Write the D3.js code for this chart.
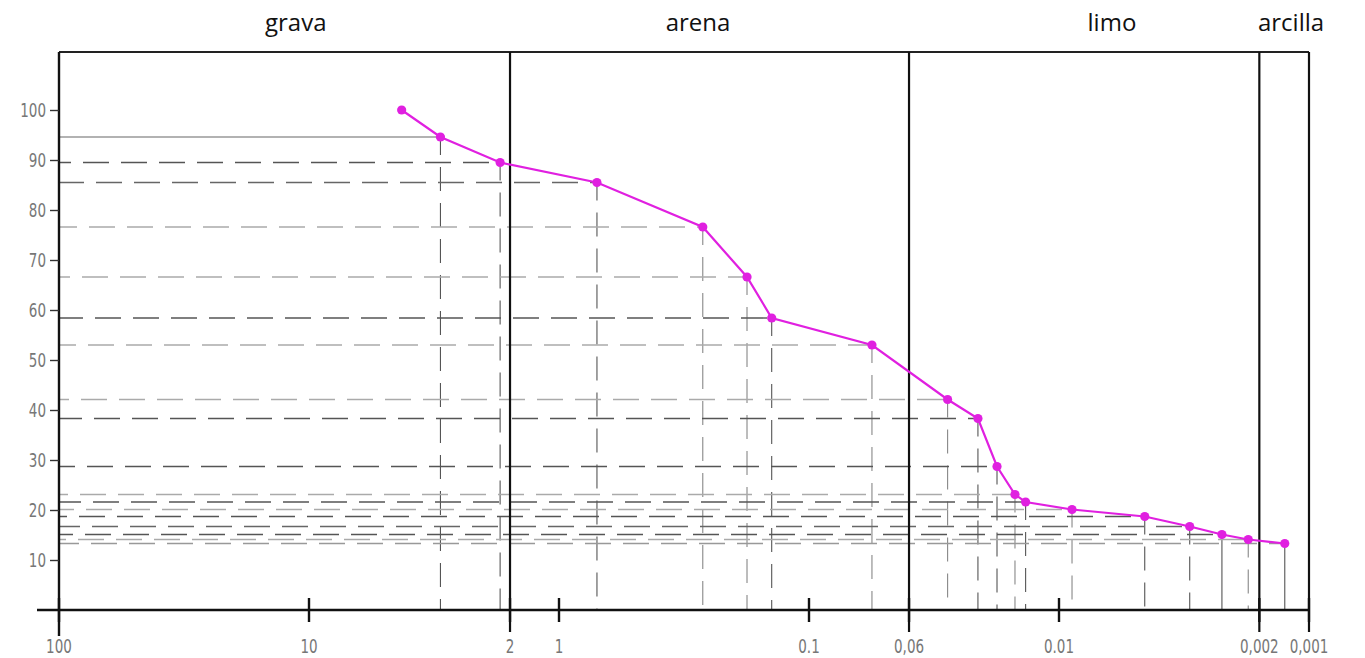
<!DOCTYPE html>
<html><head><meta charset="utf-8">
<script src="https://cdn.jsdelivr.net/npm/d3@7"></script>
<style>html,body{margin:0;padding:0;background:#fff;}svg{display:block;}</style>
</head><body><svg id="c" width="1365" height="658"></svg>
<script>
// ---- data ----
const diameters = [4.26, 2.98, 1.72, 0.705, 0.266, 0.177, 0.141, 0.056, 0.0279, 0.0211, 0.0177, 0.0150, 0.0136, 0.00887, 0.00454, 0.00300, 0.00223, 0.00175, 0.00125];
const passing   = [100, 94.6, 89.5, 85.5, 76.6, 66.6, 58.4, 53.0, 42.1, 38.3, 28.7, 23.1, 21.6, 20.1, 18.7, 16.7, 15.1, 14.1, 13.3];
const xTickValues = [100, 10, 1.57, 1, 0.1, 0.0398, 0.01, 0.00158, 0.001];
const xTickLabels = ["100", "10", "2", "1", "0.1", "0,06", "0.01", "0,002", "0,001"];
const yTickValues = [10, 20, 30, 40, 50, 60, 70, 80, 90, 100];
const zoneBounds = [1.57, 0.0398, 0.00158, 0.001];
const zoneNames = ["grava", "arena", "limo", "arcilla"];
const zoneLabelAt = [11.3, 0.278, 0.00614, 0.00118];

// ---- layout ----
const svg = d3.select("#c");
const x = d3.scaleLog().domain([100, 0.001]).range([59, 1309]);
const y = d3.scaleLinear().domain([0, 100]).range([610, 110]);
const yTop = 52;
const tickFont = "DejaVu Sans, sans-serif";

// guide tones (style, not data)
const tone = ["#999","#999","#555","#666","#aaa","#aaa","#555","#aaa","#aaa","#555","#555","#aaa","#555","#aaa","#555","#666","#555","#aaa","#999"];

const pts = diameters.map((d, i) => ({d, p: passing[i], i}));

// horizontal + vertical guides
const g = svg.append("g");
pts.forEach(pt => {
  if (pt.i === 0) return;
  g.append("line")
    .attr("x1", x(100)).attr("x2", x(pt.d))
    .attr("y1", y(pt.p)).attr("y2", y(pt.p))
    .attr("stroke", tone[pt.i]).attr("stroke-width", 1.4)
    .attr("stroke-dasharray", pt.i === 1 ? null : "26,12")
    .attr("stroke-dashoffset", (pt.i * 7) % 20);
  const last = pt.i >= 16;
  g.append("line")
    .attr("x1", x(pt.d)).attr("x2", x(pt.d))
    .attr("y1", y(pt.p)).attr("y2", y(0))
    .attr("stroke", tone[pt.i] === "#aaa" ? "#888" : "#555").attr("stroke-width", 1.1)
    .attr("stroke-dasharray", (last && pt.i !== 17) ? null : "24,12")
    .attr("stroke-dashoffset", 6);
});

// frame: top border, left axis, zone boundaries
svg.append("line").attr("x1", x(100)).attr("x2", x(0.001)).attr("y1", yTop).attr("y2", yTop)
  .attr("stroke", "#222").attr("stroke-width", 2.2);
svg.append("line").attr("x1", x(100)).attr("x2", x(100)).attr("y1", yTop).attr("y2", 636)
  .attr("stroke", "#111").attr("stroke-width", 2.4);
zoneBounds.forEach(b => {
  svg.append("line").attr("x1", x(b)).attr("x2", x(b)).attr("y1", yTop).attr("y2", 632)
    .attr("stroke", "#111").attr("stroke-width", 2.2);
});

// y axis ticks
const yAxis = d3.axisLeft(y).tickValues(yTickValues).tickSize(9).tickPadding(4);
const ya = svg.append("g").attr("transform", `translate(${x(100)},0)`).call(yAxis);
ya.select(".domain").remove();
ya.selectAll(".tick line").attr("stroke", "#333").attr("stroke-width", 1.4);
ya.selectAll(".tick text").attr("fill", "#777").attr("font-family", tickFont)
  .attr("font-size", 13.5).attr("dy", "0.36em").attr("transform", "scale(1,1.38)");

// x axis
svg.append("line").attr("x1", 37).attr("x2", x(0.001)).attr("y1", y(0)).attr("y2", y(0))
  .attr("stroke", "#111").attr("stroke-width", 2.4);
const xa = svg.append("g");
xTickValues.forEach((v, i) => {
  xa.append("line").attr("x1", x(v)).attr("x2", x(v)).attr("y1", y(0) - 12).attr("y2", y(0) + 12)
    .attr("stroke", "#111").attr("stroke-width", 2.4);
  xa.append("g").attr("transform", `translate(${x(v)},653) scale(1,1.38)`)
    .append("text").attr("text-anchor", "middle")
    .attr("fill", "#777").attr("font-family", tickFont).attr("font-size", 13.5)
    .text(xTickLabels[i]);
});

// zone names
zoneNames.forEach((n, i) => {
  svg.append("text").attr("x", x(zoneLabelAt[i])).attr("y", 31).attr("text-anchor", "middle")
    .attr("font-family", "Open Sans, Noto Sans, sans-serif").attr("font-size", 24).attr("fill", "#111")
    .text(n);
});

// curve
const line = d3.line().x(d => x(d.d)).y(d => y(d.p));
svg.append("path").datum(pts).attr("d", line).attr("fill", "none")
  .attr("stroke", "#e020e0").attr("stroke-width", 2.2);
svg.append("g").selectAll("circle").data(pts).join("circle")
  .attr("cx", d => x(d.d)).attr("cy", d => y(d.p)).attr("r", 4.6).attr("fill", "#e020e0");
</script></body></html>
